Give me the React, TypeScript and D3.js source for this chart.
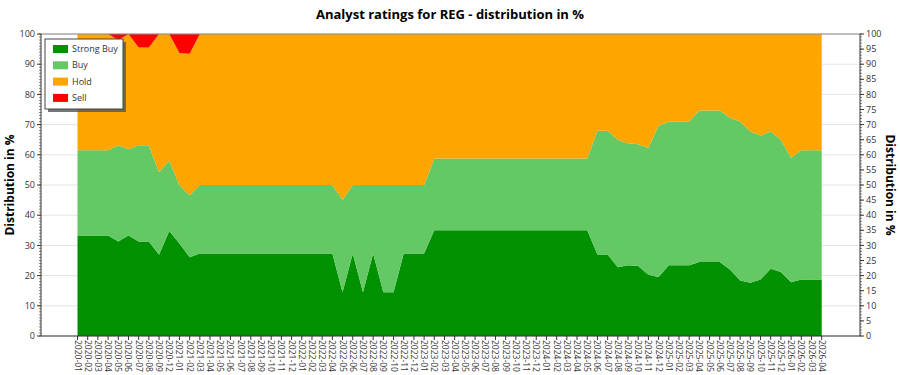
import React from "react";
import * as d3 from "d3";

const months = [
  "2020-01","2020-02","2020-03","2020-04","2020-05","2020-06","2020-07","2020-08","2020-09","2020-12",
  "2021-01","2021-02","2021-03","2021-04","2021-05","2021-06","2021-07","2021-08","2021-09","2021-10","2021-11","2021-12",
  "2022-01","2022-02","2022-03","2022-04","2022-05","2022-06","2022-07","2022-08","2022-09","2022-10","2022-11","2022-12",
  "2023-01","2023-02","2023-03","2023-04","2023-05","2023-06","2023-07","2023-08","2023-09","2023-10","2023-11","2023-12",
  "2024-01","2024-02","2024-03","2024-04","2024-05","2024-06","2024-07","2024-08","2024-09","2024-10","2024-11","2024-12",
  "2025-01","2025-02","2025-03","2025-04","2025-05","2025-06","2025-07","2025-08","2025-09","2025-10","2025-11","2025-12",
  "2026-01","2026-02","2026-03","2026-04"
];

const strongBuy = [
  33.3,33.3,33.3,33.3,31.3,33.3,31.3,31.3,26.9,34.8,
  30.6,26.1,27.3,27.3,27.3,27.3,27.3,27.3,27.3,27.3,27.3,27.3,
  27.3,27.3,27.3,27.3,14.5,27.3,14.5,27.3,14.5,14.5,27.3,27.3,
  27.3,35,35,35,35,35,35,35,35,35,35,35,
  35,35,35,35,35,27,27,22.8,23.4,23.2,20.3,19.5,
  23.4,23.4,23.4,24.5,24.5,24.5,22,18.4,17.6,18.7,22.3,21.2,
  17.8,18.7,18.7,18.7
];

const buy = [
  28.2,28.2,28.2,28.2,31.9,28.5,31.9,31.9,27.3,23.3,
  19.3,20.5,22.7,22.7,22.7,22.7,22.7,22.7,22.7,22.7,22.7,22.7,
  22.7,22.7,22.7,22.7,30.5,22.7,35.5,22.7,35.5,35.5,22.7,22.7,
  22.7,23.8,23.8,23.8,23.8,23.8,23.8,23.8,23.8,23.8,23.8,23.8,
  23.8,23.8,23.8,23.8,23.8,41,41,42.2,40.4,40.3,42,50.1,
  47.6,47.6,47.6,50.2,50.2,50.2,50.3,52.6,50.1,47.7,45.4,43.7,
  41.2,42.8,42.8,42.8
];

const sell = [
  0,0,0,0,2,0,4.5,4.5,0,0,
  6.3,6.5,0,0,0,0,0,0,0,0,0,0,
  0,0,0,0,0,0,0,0,0,0,0,0,
  0,0,0,0,0,0,0,0,0,0,0,0,
  0,0,0,0,0,0,0,0,0,0,0,0,
  0,0,0,0,0,0,0,0,0,0,0,0,
  0,0,0,0
];

const hold = months.map((_, i) => +(100 - strongBuy[i] - buy[i] - sell[i]).toFixed(1));

const seriesNames = ["Strong Buy", "Buy", "Hold", "Sell"];
const seriesColors = ["#009100", "#64c864", "#ffa500", "#ff0000"];
const yTicksLeft = d3.range(0, 101, 10);
const yTicksRight = d3.range(0, 101, 5);

const W = 900, H = 375;
const axL = 41, axR = 860, yTop = 34, yBot = 336;
const font = "'Open Sans', 'Noto Sans', sans-serif";

export default function App() {
  const x = d3.scalePoint<string>().domain(months).range([77.5, 821.7]);
  const y = d3.scaleLinear().domain([0, 100]).range([yBot, yTop]);

  const rows = months.map((m, i) => ({
    m,
    "Strong Buy": strongBuy[i],
    Buy: buy[i],
    Hold: hold[i],
    Sell: sell[i],
  }));
  const stacked = d3.stack<any>().keys(seriesNames)(rows);
  const area = d3
    .area<any>()
    .x((d) => x(d.data.m) as number)
    .y0((d) => y(d[0]))
    .y1((d) => y(d[1]));

  const minor = d3.range(0, 101, 1);

  return (
    <svg width={W} height={H} style={{ position: "absolute", left: 0, top: 0, background: "#fff" }} fontFamily={font}>
      <text x={450} y={19} textAnchor="middle" fontSize={13} fontWeight="bold" fill="#000">
        Analyst ratings for REG - distribution in %
      </text>

      {/* gridlines */}
      {yTicksLeft.map((t) => (
        <line key={"g" + t} x1={axL} x2={axR} y1={y(t)} y2={y(t)} stroke="#e4e4e4" strokeWidth={1} />
      ))}

      {/* areas */}
      {stacked.map((s, k) => (
        <path key={s.key} d={area(s) || ""} fill={seriesColors[k]} stroke="none" />
      ))}

      {/* top frame */}
      <line x1={axL} x2={axR} y1={yTop} y2={yTop} stroke="#8a8a8a" strokeWidth={1} />

      {/* left axis */}
      <line x1={axL} x2={axL} y1={yTop} y2={yBot} stroke="#333" />
      {minor.map((t) => (
        <line key={"lm" + t} x1={axL - 2} x2={axL} y1={y(t)} y2={y(t)} stroke="#333" strokeWidth={0.6} />
      ))}
      {yTicksLeft.map((t) => (
        <g key={"l" + t}>
          <line x1={axL - 4} x2={axL} y1={y(t)} y2={y(t)} stroke="#333" />
          <text x={axL - 6} y={y(t)} dy="0.35em" textAnchor="end" fontSize={9} fill="#333">
            {t}
          </text>
        </g>
      ))}
      <text
        transform={`translate(14,${(yTop + yBot) / 2}) rotate(-90)`}
        textAnchor="middle"
        fontSize={12}
        fontWeight="bold"
        fill="#000"
      >
        Distribution in %
      </text>

      {/* right axis */}
      <line x1={axR} x2={axR} y1={yTop} y2={yBot} stroke="#333" />
      {minor.map((t) => (
        <line key={"rm" + t} x1={axR} x2={axR + 2} y1={y(t)} y2={y(t)} stroke="#333" strokeWidth={0.6} />
      ))}
      {yTicksRight.map((t) => (
        <g key={"r" + t}>
          <line x1={axR} x2={axR + 4} y1={y(t)} y2={y(t)} stroke="#333" />
          <text x={axR + 6} y={y(t)} dy="0.35em" textAnchor="start" fontSize={9} fill="#333">
            {t}
          </text>
        </g>
      ))}
      <text
        transform={`translate(886,${(yTop + yBot) / 2}) rotate(90)`}
        textAnchor="middle"
        fontSize={12}
        fontWeight="bold"
        fill="#000"
      >
        Distribution in %
      </text>

      {/* bottom axis */}
      <line x1={axL} x2={axR} y1={yBot} y2={yBot} stroke="#333" />
      {months.map((m) => (
        <g key={"x" + m}>
          <line x1={x(m)} x2={x(m)} y1={yBot} y2={yBot + 4} stroke="#333" />
          <text
            transform={`translate(${(x(m) as number) - 3},${yBot + 4}) rotate(90)`}
            fontSize={8.5}
            fill="#333"
            textAnchor="start"
          >
            {m}
          </text>
        </g>
      ))}

      {/* legend */}
      <rect x={48} y={42} width={78} height={70} fill="#555" opacity={0.8} />
      <rect x={45} y={39} width={78} height={70} fill="#fff" stroke="#444" strokeWidth={1} />
      {seriesNames.map((n, k) => (
        <g key={"lg" + n} transform={`translate(53,${49 + k * 16.3})`}>
          <rect x={0} y={-4} width={15} height={8} fill={seriesColors[k]} />
          <text x={19} y={0} dy="0.35em" fontSize={9} fill="#333">
            {n}
          </text>
        </g>
      ))}
    </svg>
  );
}
